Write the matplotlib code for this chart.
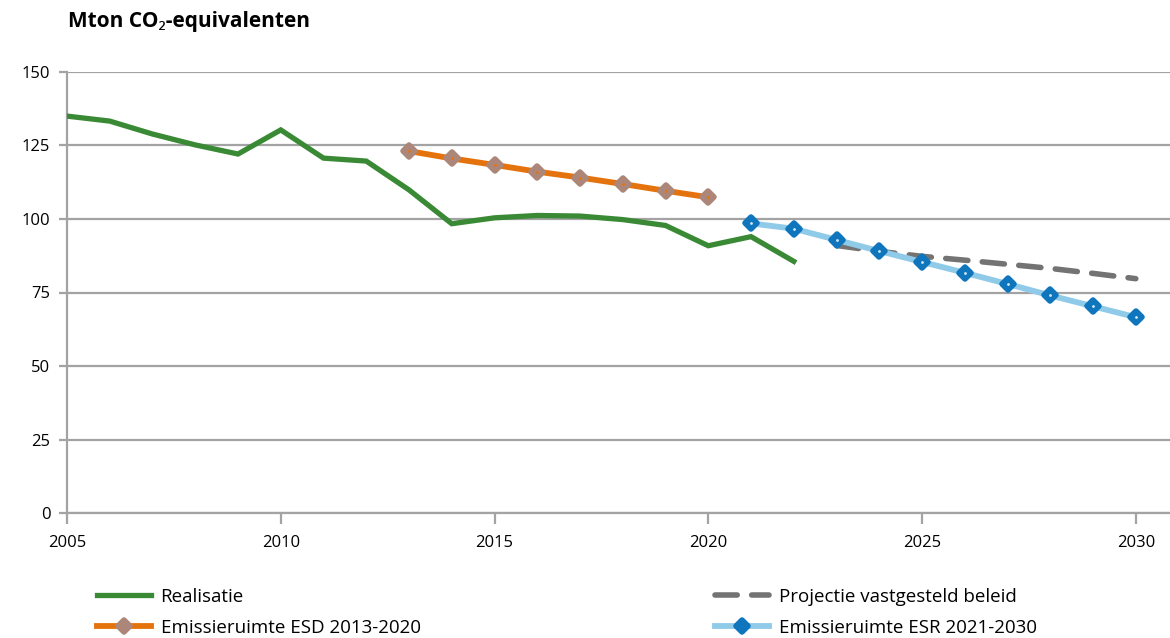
import matplotlib
matplotlib.use("Agg")
import matplotlib.pyplot as plt
from matplotlib.markers import MarkerStyle

plt.rcParams['font.family'] = ['Open Sans', 'Noto Sans', 'DejaVu Sans']
plt.rcParams['font.size'] = 12

# data
years_real = list(range(2005, 2023))
realisatie = [135.0, 133.3, 128.9, 125.2, 122.1, 130.3, 120.7, 119.7, 109.9, 98.4,
              100.4, 101.2, 101.0, 99.8, 97.8, 90.9, 94.0, 85.6]

years_esd = list(range(2013, 2021))
esd = [123.1, 120.6, 118.4, 116.1, 114.1, 111.9, 109.6, 107.4]

years_proj = list(range(2023, 2031))
projectie = [91.0, 89.0, 87.3, 86.0, 84.6, 83.2, 81.5, 79.7]

years_esr = list(range(2021, 2031))
esr = [98.5, 96.7, 92.9, 89.1, 85.4, 81.7, 77.9, 74.0, 70.3, 66.6]

labels = ["Realisatie", "Emissieruimte ESD 2013-2020",
          "Projectie vastgesteld beleid", "Emissieruimte ESR 2021-2030"]

GREEN = "#3a8a35"
ORANGE = "#e5730d"
BROWN = "#ab8679"
LBLUE = "#8fcae9"
BLUE = "#0f76bd"
GREY = "#737373"
GRID = "#a3a3a3"

fig = plt.figure(figsize=(11.7, 6.38), dpi=100)
ax = fig.add_axes([67 / 1170, 1 - 513 / 638, (1170 - 67) / 1170, (513 - 72) / 638])

diamond = MarkerStyle('D', joinstyle='round')

h_real, = ax.plot(years_real, realisatie, color=GREEN, lw=3.8, solid_joinstyle='miter', zorder=3)
h_esd, = ax.plot(years_esd, esd, color=ORANGE, lw=4.2, marker=diamond, ms=6.5,
                 mfc=BROWN, mec=BROWN, mew=4, zorder=4)
ax.plot(years_esd, esd, ls='none', marker='.', ms=2, color=ORANGE, zorder=5)
h_proj, = ax.plot(years_proj, projectie, color=GREY, lw=4, ls=(0, (4, 2.6)),
                  dash_capstyle='round', zorder=3)
h_esr, = ax.plot(years_esr, esr, color=LBLUE, lw=4.2, marker=diamond, ms=6.5,
                 mfc=BLUE, mec=BLUE, mew=4, zorder=4)
ax.plot(years_esr, esr, ls='none', marker='.', ms=2, color="#d0e6f5", zorder=5)

ax.set_xlim(2005, 2030.8)
ax.set_ylim(0, 150)
ax.set_xticks(range(2005, 2031, 5))
ax.set_yticks(range(0, 151, 25))
ax.yaxis.grid(True, color=GRID, lw=1.6)
ax.set_axisbelow(True)
for s in ['top', 'right']:
    ax.spines[s].set_visible(False)
for s in ['left', 'bottom']:
    ax.spines[s].set_color(GRID)
    ax.spines[s].set_linewidth(1.6)
ax.tick_params(axis='x', length=8, width=1.6, color=GRID, pad=8, labelsize=12)
ax.tick_params(axis='y', length=6, width=1.6, color=GRID, pad=6, labelsize=12)

fig.text(68 / 1170, 1 - 21 / 638, "Mton CO\u2082-equivalenten",
         fontsize=15, fontweight='bold', va='center', ha='left')

leg1 = fig.legend([h_real, h_esd], labels[:2], loc='upper left',
                  bbox_to_anchor=(80 / 1170, 1 - 571 / 638), frameon=False,
                  handlelength=2.9, handletextpad=0.5, labelspacing=0.7, fontsize=13.5)
leg2 = fig.legend([h_proj, h_esr], labels[2:], loc='upper left',
                  bbox_to_anchor=(698 / 1170, 1 - 571 / 638), frameon=False,
                  handlelength=2.9, handletextpad=0.5, labelspacing=0.7, fontsize=13.5)

fig.savefig("out.png", dpi=100)
